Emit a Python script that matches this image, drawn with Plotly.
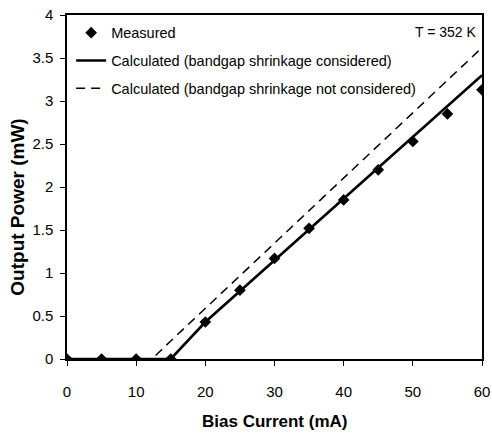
import plotly.graph_objects as go

# Measured output power vs. bias current
bias_measured = [0, 5, 10, 15, 20, 25, 30, 35, 40, 45, 50, 55, 60]
power_measured = [0, 0, 0, 0, 0.43, 0.80, 1.17, 1.52, 1.85, 2.20, 2.53, 2.85, 3.13]

# Calculated curve, bandgap shrinkage considered
bias_calc_bgs = [0, 15, 20, 25, 30, 35, 40, 45, 50, 55, 60]
power_calc_bgs = [0, 0, 0.43, 0.79, 1.15, 1.51, 1.87, 2.22, 2.58, 2.94, 3.30]

# Calculated curve, bandgap shrinkage not considered
bias_calc_nobgs = [0, 12.3, 15, 20, 25, 30, 35, 40, 45, 50, 55, 60]
power_calc_nobgs = [0, 0, 0.21, 0.59, 0.97, 1.35, 1.73, 2.10, 2.48, 2.86, 3.24, 3.62]

x_ticks = [0, 10, 20, 30, 40, 50, 60]
y_ticks = [0, 0.5, 1, 1.5, 2, 2.5, 3, 3.5, 4]

FONT = "Liberation Sans, Arial, sans-serif"

fig = go.Figure()
fig.add_trace(go.Scatter(
    x=bias_measured, y=power_measured, mode="markers", name="Measured",
    legendgroup="a",
    marker=dict(symbol="diamond", size=9, color="black"),
))
fig.add_trace(go.Scatter(
    x=bias_calc_bgs, y=power_calc_bgs, mode="lines",
    name="Calculated (bandgap shrinkage considered)", legendgroup="b",
    line=dict(color="black", width=2.6),
))
fig.add_trace(go.Scatter(
    x=bias_calc_nobgs, y=power_calc_nobgs, mode="lines",
    name="Calculated (bandgap shrinkage not considered)", legendgroup="c",
    line=dict(color="black", width=1.5, dash="9px,6px"),
))

# Temperature label in the upper-right corner
fig.add_annotation(
    x=1, y=1, xref="paper", yref="paper", xanchor="right", yanchor="top",
    xshift=-3, yshift=-7, text="T = 352 K", showarrow=False,
    font=dict(family=FONT, size=14, color="black"),
)
# Axis titles
fig.add_annotation(
    x=0.5, y=-0.183, xref="paper", yref="paper", xanchor="center", yanchor="middle",
    text="<b>Bias Current (mA)</b>", showarrow=False,
    font=dict(family=FONT, size=17, color="black"),
)
fig.add_annotation(
    x=-0.118, y=0.44, xref="paper", yref="paper", xanchor="center", yanchor="middle",
    text="<b>Output Power (mW)</b>", showarrow=False, textangle=-90,
    font=dict(family=FONT, size=19, color="black"),
)

fig.update_layout(
    width=492, height=439,
    margin=dict(l=67, r=10, t=15, b=80),
    paper_bgcolor="white", plot_bgcolor="white",
    font=dict(family=FONT, color="black"),
    showlegend=True,
    legend=dict(
        x=0.01, y=0.995, xanchor="left", yanchor="top",
        bgcolor="rgba(0,0,0,0)", font=dict(family=FONT, size=14.5, color="black"),
        tracegroupgap=6,
    ),
    xaxis=dict(
        range=[0, 60], tickvals=x_ticks, showgrid=False, zeroline=False,
        showline=True, linecolor="black", linewidth=1.5, mirror=True,
        ticks="outside", ticklen=5, tickcolor="black", ticklabelstandoff=13,
        tickfont=dict(family=FONT, size=15, color="black"), automargin=False,
    ),
    yaxis=dict(
        range=[0, 4], tickvals=y_ticks, showgrid=False, zeroline=False,
        showline=True, linecolor="black", linewidth=1.5, mirror=True,
        ticks="outside", ticklen=5, tickcolor="black", ticklabelstandoff=4,
        tickfont=dict(family=FONT, size=15, color="black"), automargin=False,
    ),
)

fig.write_html("out.html")
